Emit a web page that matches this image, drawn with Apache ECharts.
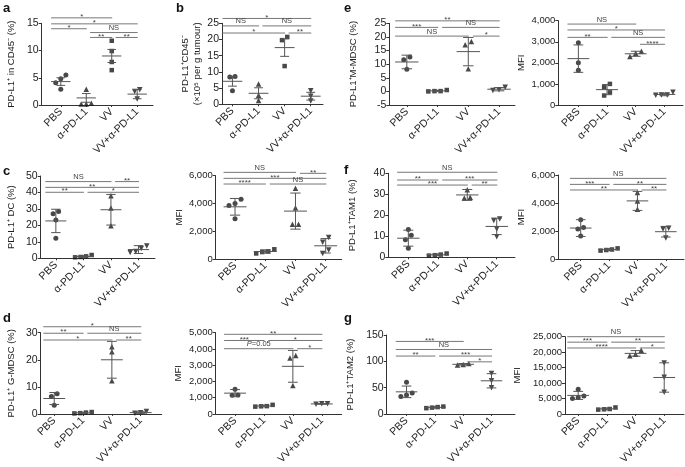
<!DOCTYPE html>
<html><head><meta charset="utf-8">
<script src="https://cdn.jsdelivr.net/npm/echarts@6/dist/echarts.min.js"></script>
<style>html,body{margin:0;padding:0;background:#fff}#c{width:685px;height:467px}</style>
</head><body><div id="c"></div>
<script>
const groups = ['PBS', 'α-PD-L1', 'VV', 'VV+α-PD-L1'];

// panel a
const aPts = [[5.5,4.8,4.1,2.9],[2.9,0.3,0.2,0.2],[11.8,9.9,7.9,6.4],[2.8,2.5,1.1]];
const aMean = [4.3,1.3,9.0,2.0];
const aErr = [0.7,0.8,1.2,0.85];
const aSig = [[0,2,'*',16.0],[0,3,'*',14.9],[0,1,'*',14.0],[1,3,'NS',13.3],[1,2,'**',12.4],[2,3,'**',12.4]];
const aY = [0,15,5];
// panel b
const bPts = [[8.6,8.4,4.2],[6.3,2.8,1.2],[20.8,19.8,11.8],[4.2,2.5,1.0]];
const bMean = [7.1,3.4,17.5,2.5];
const bErr = [1.5,1.7,2.7,1.2];
const bSig = [[0,3,'*',26.5],[0,1,'NS',24.2],[1,3,'NS',24.2],[0,2,'*',22.0],[2,3,'**',22.0]];
const bY = [0,25,5];
// panel c (%)
const cPts = [[28.5,27,23.2,12.2],[1.2,0.6,0.8,2.0],[38,30.5,19.8],[7.4,6.0,4.2,3.5]];
const cMean = [22.7,1.1,29.5,5.3];
const cErr = [7.1,0.5,9.3,2.4];
const cSig = [[0,2,'NS',46.6],[2,3,'**',46.6],[0,3,'**',43.1],[0,1,'**',40.1],[1,3,'*',40.1]];
const cY = [0,50,10];
// panel c (MFI)
const c2Pts = [[4300,4000,3850,2900],[550,400,500,700],[5100,3700,2500,2500],[1550,1200,650,400]];
const c2Mean = [3760,540,3450,950];
const c2Err = [600,120,1300,520];
const c2Sig = [[0,2,'NS',6240],[2,3,'**',6170],[0,3,'***',5810],[0,1,'****',5400],[1,3,'NS',5400]];
const c2Y = [0,6000,2000];
// panel d (%)
const dPts = [[7.5,6.4,3.2],[0.5,0.2,0.3,0.7],[24.8,23.0,12.3],[0.9,0.4,0.3]];
const dMean = [5.7,0.4,20.0,0.5];
const dErr = [2.2,0.2,6.8,0.3];
const dSig = [[0,3,'*',32.2],[0,1,'**',29.8],[1,3,'NS',29.8],[0,2,'*',27.3],[2,3,'**',27.3]];
const dY = [0,30,10];
// panel d (MFI)
const d2Pts = [[1520,1170,1150],[480,450,470,560],[3600,3450,1750],[630,600,620]];
const d2Mean = [1280,490,2930,617];
const d2Err = [220,50,980,20];
const d2Sig = [[0,3,'**',4900],[0,1,'***',4520],[1,3,'*',4520],[0,2,'P=0.05',4016],[2,3,'*',4016]];
const d2Y = [0,5000,1000];
// panel e (%)
const ePts = [[12.6,11.6,8.1],[0.1,0.0,0.1,0.5],[18.3,17.1,8.3],[1.5,0.3,0.6]];
const eMean = [10.8,0.2,14.6,0.8];
const eErr = [2.5,0.2,5.2,0.6];
const eSig = [[0,3,'**',25.9],[0,1,'***',23.5],[1,3,'NS',23.5],[0,2,'NS',20.3],[2,3,'*',20.3]];
const eY = [-5,25,5];
// panel e (MFI)
const e2Pts = [[2950,2000,1650],[1000,850,600,450],[2550,2450,2300],[600,480,470,460]];
const e2Mean = [2200,730,2430,500];
const e2Err = [650,240,120,60];
const e2Sig = [[0,2,'NS',3840],[0,3,'*',3560],[0,1,'**',3210],[1,3,'NS',3210],[2,3,'****',2880]];
const e2Y = [0,4000,1000];
// panel f (%)
const fPts = [[13.2,10.5,8.3,4.3],[1.3,0.8,1.0,1.8],[32.2,28.6,28.2],[18.2,17.5,13.5,9.8]];
const fMean = [9.1,1.2,29.7,14.7];
const fErr = [3.8,0.4,2.6,3.9];
const fSig = [[0,3,'NS',40.5],[0,1,'**',36.8],[1,3,'***',36.8],[0,2,'***',34.4],[2,3,'**',34.4]];
const fY = [0,40,10];
// panel f (MFI)
const f2Pts = [[2800,2250,2150,1650],[680,600,640,760],[4750,4150,3550],[2200,2150,1500]];
const f2Mean = [2210,670,4150,1950];
const f2Err = [600,70,680,380];
const f2Sig = [[0,3,'NS',5760],[0,1,'***',5330],[1,3,'**',5330],[0,2,'**',4930],[2,3,'**',4930]];
const f2Y = [0,6000,2000];
// panel g (%)
const gPts = [[60,40,36,33],[13,11,12,14],[96,93,94],[77,63,50]];
const gMean = [42,12.5,94.3,63];
const gErr = [11,1.5,1.5,13.5];
const gSig = [[0,2,'***',137.8],[0,3,'NS',122.5],[0,1,'**',110],[1,3,'***',110],[2,3,'*',99]];
const gY = [0,150,50];
// panel g (MFI)
const g2Pts = [[8000,5800,5300,5000],[1600,1400,1500,2100],[20600,19300,18800],[16500,11900,7000]];
const g2Mean = [6000,1650,19600,11800];
const g2Err = [1300,300,900,4750];
const g2Sig = [[0,3,'NS',25000],[0,1,'***',23230],[1,3,'**',23230],[0,2,'****',21350],[2,3,'*',21350]];
const g2Y = [0,25000,5000];

const symAB = ['circle','triangle','rect','triangle'];
const symCG = ['circle','rect','triangle','triangle'];

// layout: box = [axisX, topY, rightX, bottomY], xr = x extent in category units
const panels = [
  {pts:aPts, mean:aMean, err:aErr, sig:aSig, y:aY, sym:symAB, name:'PD-L1⁺ in CD45⁻ (%)', box:[41.7,23.3,153,105], xr:[-0.75,3.62], gap:24, fs:10.5},
  {pts:bPts, mean:bMean, err:bErr, sig:bSig, y:bY, sym:symAB, name:'PD-L1⁺CD45⁻\n(×10⁵ per g tumour)', box:[222,23.3,323,104.3], xr:[-0.4,3.47], gap:16, fs:10.5},
  {pts:cPts, mean:cMean, err:cErr, sig:cSig, y:cY, sym:symCG, name:'PD-L1⁺ DC (%)', box:[40.7,176,155,258.3], xr:[-0.55,3.6], gap:23, fs:10.5},
  {pts:c2Pts, mean:c2Mean, err:c2Err, sig:c2Sig, y:c2Y, sym:symCG, name:'MFI', box:[215.7,175.7,341.7,259], xr:[-0.64,3.53], gap:30, fs:9.5},
  {pts:dPts, mean:dMean, err:dErr, sig:dSig, y:dY, sym:symCG, name:'PD-L1⁺ G-MDSC (%)', box:[40.7,332.7,161.7,415], xr:[-0.47,3.73], gap:23, fs:10.5},
  {pts:d2Pts, mean:d2Mean, err:d2Err, sig:d2Sig, y:d2Y, sym:symCG, name:'MFI', box:[215.7,332.7,341.7,415.7], xr:[-0.67,3.69], gap:31, fs:9.5},
  {pts:ePts, mean:eMean, err:eErr, sig:eSig, y:eY, sym:symCG, name:'PD-L1⁺M-MDSC (%)', box:[389.3,23.3,515,105], xr:[-0.57,3.52], gap:30, fs:10.5},
  {pts:e2Pts, mean:e2Mean, err:e2Err, sig:e2Sig, y:e2Y, sym:symCG, name:'MFI', box:[558.3,20.7,683,105], xr:[-0.7,3.65], gap:26, fs:9.5},
  {pts:fPts, mean:fMean, err:fErr, sig:fSig, y:fY, sym:symCG, name:'PD-L1⁺TAM1 (%)', box:[388.3,173.3,515,257.3], xr:[-0.68,3.62], gap:30, fs:10.5},
  {pts:f2Pts, mean:f2Mean, err:f2Err, sig:f2Sig, y:f2Y, sym:symCG, name:'MFI', box:[558.3,175,684,259], xr:[-0.79,3.64], gap:26, fs:9.5},
  {pts:gPts, mean:gMean, err:gErr, sig:gSig, y:gY, sym:symCG, name:'PD-L1⁺TAM2 (%)', box:[386.7,335,515,416.7], xr:[-0.7,3.83], gap:30, fs:10.5},
  {pts:g2Pts, mean:g2Mean, err:g2Err, sig:g2Sig, y:g2Y, sym:symCG, name:'MFI', box:[565,336.7,684,416.7], xr:[-0.46,3.69], gap:42, fs:9.5}
];
const letters = [['a',3,2],['b',176,2],['c',3,165],['d',3,312],['e',344,2],['f',344,164],['g',344,312]];

const FONT = '"Liberation Sans", Arial, Helvetica, sans-serif';
const fmt = v => { const s = String(Math.abs(v)); const t = s.replace(/\B(?=(\d{3})+(?!\d))/g, ','); return (v < 0 ? '-' : '') + t; };

function swarm(vals, thr) {
  const idx = vals.map((v,i)=>i).sort((p,q)=>vals[p]-vals[q]);
  const off = vals.map(()=>0);
  let cl = [idx[0]];
  const flush = () => { const m = cl.length; cl.forEach((id,k)=>{ off[id] = (k-(m-1)/2)*0.2; }); };
  for (let t=1;t<idx.length;t++) {
    if (vals[idx[t]] - vals[idx[t-1]] < thr) cl.push(idx[t]); else { flush(); cl = [idx[t]]; }
  }
  flush();
  return off;
}

const grid = [], xAxis = [], yAxis = [], series = [];
panels.forEach((p, pi) => {
  const [bx, by, br, bb] = p.box;
  grid.push({left: bx, top: by, width: br - bx, height: bb - by, containLabel: false});
  xAxis.push({
    type: 'value', gridIndex: pi, min: p.xr[0], max: p.xr[1],
    axisLine: {show: true, onZero: false, lineStyle: {color: '#333', width: 1}},
    splitLine: {show: false},
    axisTick: {show: true, customValues: [0,1,2,3], length: 2, lineStyle: {color: '#333'}},
    axisLabel: {customValues: [0,1,2,3], formatter: v => groups[Math.round(v)], rotate: 45, fontSize: 10.5, margin: 5, color: '#222', fontFamily: FONT}
  });
  yAxis.push({
    type: 'value', gridIndex: pi, min: p.y[0], max: p.y[1], interval: p.y[2],
    axisLine: {show: true, onZero: false, lineStyle: {color: '#333', width: 1}},
    axisTick: {show: true, length: 3, lineStyle: {color: '#333'}},
    splitLine: {show: false},
    axisLabel: {formatter: v => fmt(v), fontSize: p.fs, margin: 3, color: '#222', fontFamily: FONT},
    name: p.name, nameLocation: 'middle', nameGap: p.gap, nameRotate: 90,
    nameTextStyle: {fontSize: 9.5, color: '#222', fontFamily: FONT, lineHeight: 12}
  });
  const thr = 0.06 * (p.y[1] - p.y[0]);
  const sdata = [];
  p.pts.forEach((vals, g) => {
    const off = swarm(vals, thr);
    vals.forEach((v, k) => {
      sdata.push({value: [g + off[k], v], symbol: p.sym[g], symbolRotate: g === 3 ? 180 : 0,
        symbolSize: p.sym[g] === 'triangle' ? 5.5 : (p.sym[g] === 'rect' ? 4.5 : 5)});
    });
  });
  series.push({type: 'scatter', xAxisIndex: pi, yAxisIndex: pi, data: sdata, itemStyle: {color: '#1a1a1a'}, z: 3, silent: true});
  series.push({
    type: 'custom', xAxisIndex: pi, yAxisIndex: pi, z: 4, silent: true, clip: false,
    data: p.mean.map((m, g) => [g, m, p.err[g]]),
    renderItem: (params, api) => {
      const g = api.value(0), m = api.value(1), e = api.value(2);
      const c = api.coord([g, m]), t = api.coord([g, m + e]), b = api.coord([g, m - e]);
      const u = api.size([1, 0])[0];
      const st = {stroke: '#555', lineWidth: 1, fill: null};
      return {type: 'group', children: [
        {type: 'line', shape: {x1: c[0] - 0.38*u, y1: c[1], x2: c[0] + 0.38*u, y2: c[1]}, style: st},
        {type: 'line', shape: {x1: c[0], y1: t[1], x2: c[0], y2: b[1]}, style: st},
        {type: 'line', shape: {x1: c[0] - 0.17*u, y1: t[1], x2: c[0] + 0.17*u, y2: t[1]}, style: st},
        {type: 'line', shape: {x1: c[0] - 0.17*u, y1: b[1], x2: c[0] + 0.17*u, y2: b[1]}, style: st}
      ]};
    }
  });
  const sig = p.sig;
  series.push({
    type: 'custom', xAxisIndex: pi, yAxisIndex: pi, z: 5, silent: true, clip: false,
    data: sig.map(s => [(s[0] + s[1]) / 2, s[3]]),
    renderItem: (params, api) => {
      const s = sig[params.dataIndex];
      const x0 = s[0] === 0 ? -0.38 : s[0] + 0.15;
      const x1 = s[1] + 0.02;
      const a = api.coord([x0, s[3]]), b = api.coord([x1, s[3]]);
      const mid = (a[0] + b[0]) / 2;
      const stars = /^\*+$/.test(s[2]);
      const isP = s[2].indexOf('P=') === 0;
      const txt = isP ? '{i|P}' + s[2].slice(1) : s[2];
      return {type: 'group', children: [
        {type: 'line', shape: {x1: a[0], y1: a[1], x2: b[0], y2: b[1]}, style: {stroke: '#777', lineWidth: 1}},
        {type: 'text', style: {text: txt, x: mid, y: stars ? a[1] + 3 : a[1] - 0.5, align: 'center', verticalAlign: 'bottom',
          fontSize: stars ? 8 : 7.5, fontFamily: FONT, fill: '#444',
          rich: {i: {fontStyle: 'italic', fontSize: 7.5, fontFamily: FONT, fill: '#444'}}}}
      ]};
    }
  });
});

const chart = echarts.init(document.getElementById('c'), null, {renderer: 'canvas'});
chart.setOption({
  animation: false,
  backgroundColor: '#fff',
  textStyle: {fontFamily: FONT},
  grid, xAxis, yAxis, series,
  graphic: letters.map(l => ({type: 'text', left: l[1], top: l[2], style: {text: l[0], font: 'bold 13px ' + FONT, fill: '#111'}}))
});
</script>
</body></html>
